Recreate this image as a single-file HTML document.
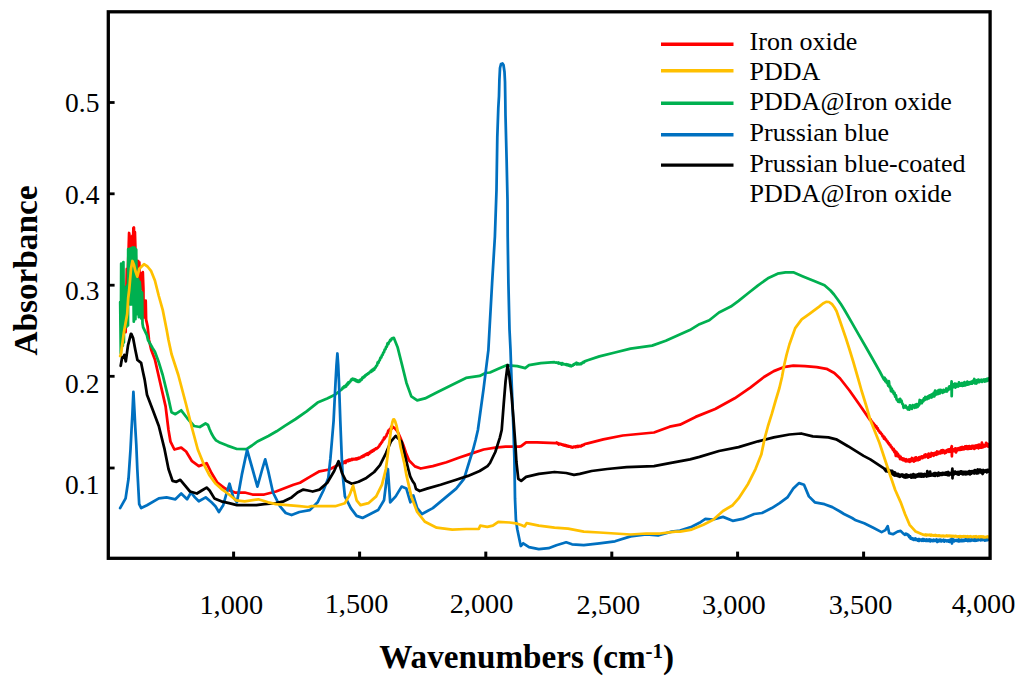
<!DOCTYPE html>
<html><head><meta charset="utf-8"><style>
html,body{margin:0;padding:0;background:#fff;}
svg{display:block;}
text{font-family:"Liberation Serif", serif;fill:#000;}
</style></head><body>
<svg width="1024" height="687" viewBox="0 0 1024 687">
<rect width="1024" height="687" fill="#fff"/>
<polyline points="121.8,298.7 122.3,330.5 122.9,299.8 123.4,329.3 124.0,299.4 124.5,329.5 125.1,295.2 125.6,332.2 126.2,300.7 126.8,269.0 127.3,276.6 127.9,268.2 128.6,250.0 129.1,233.0 129.6,236.0 130.1,252.0 130.6,240.0 131.2,246.0 131.7,252.0 132.3,236.0 132.9,250.0 133.4,228.0 133.9,227.5 134.4,245.0 134.9,232.0 135.5,252.0 136.0,263.1 136.6,276.8 137.1,262.3 137.7,278.3 138.2,261.0 138.8,277.2 139.3,262.3 139.5,273.2 140.1,288.9 140.6,273.2 141.2,289.2 141.7,273.3 142.3,287.9 142.8,272.2 143.4,288.5 143.5,301.8 144.1,317.5 144.6,301.5 145.2,315.8 145.7,300.7 146.1,319.6 147.6,326.5 149.0,340.0 151.2,349.8 154.9,359.5 160.7,385.0 165.6,406.4 168.5,430.0 170.5,441.7 174.4,449.5 181.2,447.6 186.1,451.5 192.0,461.2 198.8,466.1 206.6,463.2 211.5,473.0 217.4,482.7 225.2,488.6 235.0,492.5 244.7,492.5 252.5,494.5 264.2,494.5 276.0,491.5 293.5,484.7 300.0,482.7 309.8,476.9 319.5,471.3 329.3,469.5 339.0,464.5 340.0,464.7 340.7,463.6 341.4,463.7 342.1,462.7 342.8,463.5 343.5,461.9 344.2,462.7 344.9,461.4 345.6,462.9 346.3,460.7 347.0,461.4 347.7,460.2 348.4,461.1 349.1,459.6 349.8,460.6 350.5,459.7 351.2,460.1 351.9,459.0 352.6,459.7 353.3,458.9 354.0,459.4 354.7,458.9 355.4,459.4 356.1,458.4 356.8,459.3 357.5,458.2 358.2,458.7 358.9,457.7 359.6,458.3 360.3,457.3 361.0,457.4 361.7,456.4 362.4,457.1 363.1,455.7 363.8,456.3 364.5,454.9 365.2,455.3 365.9,454.1 366.6,454.7 367.3,453.4 368.0,454.8 368.7,452.9 369.4,453.5 370.1,451.8 370.8,452.4 371.5,450.9 372.2,451.5 372.9,450.2 373.6,450.9 374.3,449.4 375.0,449.6 375.7,448.5 376.4,448.9 377.1,447.8 377.8,447.9 378.5,446.7 379.2,446.3 379.9,444.4 380.6,444.3 381.3,442.6 382.0,442.4 382.7,440.4 383.4,440.2 384.1,437.7 384.8,438.3 385.5,436.7 386.2,436.3 386.9,433.9 387.6,433.2 388.3,430.6 389.0,430.9 389.7,429.2 390.4,429.5 391.1,427.0 391.8,428.7 392.8,426.8 395.0,428.3 397.5,431.4 400.5,438.0 403.3,445.0 406.0,453.0 409.1,460.5 414.9,466.4 420.7,468.5 428.9,466.9 432.8,466.1 446.5,462.2 460.2,457.3 471.9,453.4 483.6,449.5 495.3,447.6 505.6,446.6 519.3,446.6 521.2,446.2 526.1,442.3 536.9,442.3 556.0,443.2 556.7,442.5 557.4,443.5 558.1,443.2 558.8,444.5 559.5,443.6 560.2,444.2 560.9,443.8 561.6,444.7 562.3,444.3 563.0,445.1 563.7,444.6 564.4,445.6 565.1,444.9 565.8,445.9 566.5,445.4 567.2,446.3 567.9,445.8 568.6,446.6 569.3,446.2 570.0,446.8 570.7,446.4 571.4,447.4 572.1,447.1 572.8,447.5 573.5,446.6 574.2,447.0 574.9,446.5 575.6,447.2 576.3,446.3 577.0,446.8 577.7,446.0 578.4,446.8 579.1,445.9 579.8,446.4 580.5,445.8 581.2,446.2 581.9,445.2 582.6,445.5 583.3,444.7 584.0,444.9 584.7,444.0 587.7,443.3 603.3,439.4 622.8,435.5 654.0,432.5 669.7,426.7 680.0,424.7 695.6,416.9 715.2,409.0 734.7,398.3 750.3,387.6 764.0,377.0 773.8,371.1 783.5,367.2 793.3,365.6 805.0,366.2 816.7,367.2 826.5,368.8 834.3,373.0 840.1,378.5 849.5,390.5 859.0,404.0 870.0,419.9 870.7,419.4 871.4,421.4 872.1,421.5 872.8,423.2 873.5,423.4 874.2,424.9 874.9,424.8 875.6,427.0 876.3,426.2 877.0,428.7 877.7,428.3 878.4,430.6 879.1,430.7 879.8,432.6 880.5,432.3 881.2,433.8 881.9,434.2 882.6,436.2 883.3,435.9 884.0,438.7 884.7,437.4 885.4,439.5 886.1,439.4 886.8,441.4 887.5,441.3 888.2,443.3 888.9,443.2 889.6,445.1 890.3,444.9 891.0,447.1 891.7,446.9 892.4,448.7 893.0,450.0 893.7,449.0 894.4,452.1 895.1,450.7 895.8,455.9 896.5,452.2 897.2,456.0 897.9,453.8 898.6,456.6 899.3,455.7 900.0,459.0 900.7,456.9 901.4,459.3 902.1,458.2 902.8,460.1 903.5,458.6 904.2,460.4 904.9,459.3 905.6,461.3 906.3,459.2 907.0,461.3 907.7,460.3 908.4,461.3 909.1,459.5 909.8,461.9 910.5,459.4 911.2,461.0 911.9,458.0 912.6,460.9 913.3,459.3 914.0,461.5 914.7,457.8 915.4,460.7 916.1,457.4 916.8,460.1 917.5,458.3 918.2,460.2 918.9,457.5 919.6,459.7 920.3,457.0 921.0,458.0 921.7,456.5 922.4,458.2 923.1,456.5 923.8,457.4 924.5,454.8 925.2,457.1 925.9,454.5 926.6,456.4 927.3,455.0 928.0,457.7 928.7,453.6 929.4,456.9 930.1,454.6 930.8,456.5 931.5,453.0 932.2,454.9 932.9,453.5 933.6,455.8 934.3,453.1 935.0,454.5 935.7,452.6 936.4,454.8 937.1,451.5 937.8,454.1 938.5,452.0 939.2,453.3 939.9,451.8 940.6,453.3 941.3,450.5 942.0,452.9 942.7,450.1 943.4,452.4 944.1,450.8 944.8,453.3 945.5,450.9 946.2,452.5 946.9,450.1 947.6,451.4 948.3,449.5 949.0,451.9 949.7,449.5 950.4,451.7 951.1,448.5 951.8,446.2 951.8,451.7 951.9,456.3 952.0,451.3 952.5,449.0 953.2,451.3 953.9,449.3 954.6,451.2 955.3,448.3 956.0,452.4 956.7,448.7 957.4,450.4 958.1,448.3 958.8,449.7 959.5,447.9 960.2,449.9 960.9,447.3 961.6,449.6 962.3,447.0 963.0,449.4 963.7,447.5 964.4,449.2 965.1,446.4 965.8,448.7 966.5,446.2 967.2,449.0 967.9,446.4 968.6,448.9 969.3,446.1 970.0,448.7 970.7,446.6 971.4,448.6 972.1,445.8 972.8,448.2 973.5,446.0 974.2,448.9 974.9,445.8 975.6,448.1 976.3,445.5 977.0,447.7 977.7,445.1 978.4,448.3 979.1,444.6 979.8,447.6 980.5,445.8 981.2,447.7 981.9,442.7 982.6,447.4 983.3,444.9 984.0,446.8 984.7,445.2 985.4,446.3 986.1,442.9 986.8,445.9 987.5,443.8 988.2,446.7 988.9,444.6 989.6,446.3" fill="none" stroke="#ff0000" stroke-width="2.75" stroke-linejoin="round" stroke-linecap="round"/>
<polyline points="120.2,302.1 120.8,353.3 121.2,263.6 121.8,343.5 122.3,264.6 122.8,345.7 123.4,262.1 123.9,342.5 124.0,286.5 124.8,327.3 125.6,287.6 126.4,327.0 127.2,285.4 128.0,325.4 128.2,249.1 129.0,303.1 129.8,248.8 130.6,304.5 131.4,248.2 132.2,304.4 133.0,247.5 133.8,321.7 134.6,247.6 135.4,319.2 136.2,249.5 136.5,283.0 137.3,314.1 138.1,279.2 138.9,317.1 139.7,281.9 140.5,291.8 141.3,318.5 142.1,292.6 142.5,323.6 143.2,327.4 146.9,335.2 148.0,340.0 152.7,348.3 154.9,351.7 158.5,361.4 162.7,375.0 168.5,398.6 171.5,412.3 175.4,414.2 181.2,410.3 187.1,418.0 194.0,426.0 199.8,427.0 205.5,423.5 208.0,425.0 209.6,429.2 211.5,433.5 213.7,437.4 216.0,440.3 219.1,442.2 227.3,445.6 236.9,449.0 246.5,449.2 252.0,445.5 257.4,441.5 268.4,436.0 276.6,431.3 284.8,425.8 295.7,419.0 306.6,411.4 317.6,402.6 327.2,398.5 335.4,394.4 339.0,391.5 342.0,389.2 342.7,387.7 343.4,388.0 344.1,386.4 344.8,387.0 345.5,385.7 346.2,386.5 346.9,384.0 347.6,384.7 348.3,382.5 349.0,383.3 349.7,381.7 350.4,381.6 351.1,379.7 351.8,380.0 352.5,378.8 353.2,379.5 353.9,379.0 354.6,380.4 355.3,379.4 356.0,381.1 356.7,380.1 357.4,381.8 358.1,381.0 358.8,381.9 359.5,380.3 360.2,381.1 360.9,379.3 361.6,379.6 362.3,377.7 363.0,378.1 363.7,376.7 364.4,377.1 365.1,375.5 365.8,375.7 366.5,374.3 367.2,374.6 367.9,373.4 368.6,373.6 369.3,372.4 370.0,372.4 370.7,371.0 371.4,371.7 372.1,369.9 372.8,370.5 373.5,368.8 374.2,369.7 374.9,367.6 375.6,367.6 376.3,365.7 377.0,365.5 377.7,362.3 378.4,362.9 379.1,360.8 379.8,360.0 380.5,357.7 381.2,357.7 381.9,355.3 382.6,354.8 383.3,352.7 384.0,352.2 384.7,349.5 385.4,349.3 386.1,346.9 386.8,346.8 387.5,343.5 388.2,344.3 388.9,342.2 389.6,341.6 390.3,339.8 391.0,340.2 391.7,338.6 393.8,337.8 397.7,347.6 401.6,363.2 406.4,382.7 411.3,396.4 417.2,400.3 425.0,398.4 436.7,392.5 452.3,384.7 466.0,377.9 479.7,375.9 485.5,373.0 490.0,372.5 497.8,369.0 506.6,365.2 517.3,366.1 525.2,368.1 529.0,365.2 540.8,363.2 554.5,362.2 556.0,362.7 556.7,362.5 557.4,363.0 558.1,362.5 558.8,363.5 559.5,362.9 560.2,363.6 560.9,363.2 561.6,364.5 562.3,363.3 563.0,364.4 563.7,364.0 564.4,364.4 565.1,364.2 565.8,364.8 566.5,364.2 567.2,365.2 567.9,364.5 568.6,365.6 569.3,364.9 570.0,366.0 570.7,365.3 571.4,366.2 572.1,365.7 572.8,365.7 573.5,364.4 574.2,364.7 574.9,363.6 575.6,363.6 576.3,362.8 577.0,364.4 577.7,363.2 578.4,364.2 579.1,363.7 579.8,364.3 580.5,363.6 581.2,364.0 581.9,362.8 582.6,363.1 583.3,362.0 584.0,362.3 584.7,361.4 587.7,360.3 599.4,356.4 615.0,352.5 630.6,348.6 652.1,345.6 665.8,340.8 677.5,335.5 689.8,330.1 699.5,324.2 709.3,320.3 719.0,312.5 730.8,306.6 738.6,300.8 748.4,293.0 758.1,285.3 767.9,278.3 777.6,273.7 785.5,272.3 793.3,272.3 803.0,276.4 814.8,281.2 824.5,285.2 830.5,290.5 834.0,294.5 837.5,299.2 841.0,304.3 844.4,309.7 851.4,321.9 858.4,334.1 865.4,346.3 872.4,358.5 880.0,372.0 884.0,379.7 884.7,377.7 885.4,381.4 886.1,379.6 886.8,382.9 887.5,382.2 888.2,385.8 888.9,381.1 889.6,387.1 890.3,386.4 891.0,391.1 891.7,388.6 892.4,392.0 893.1,391.0 893.8,394.0 894.5,392.7 895.2,396.8 895.9,395.3 896.6,399.6 897.3,400.0 898.0,401.5 898.7,399.7 899.4,402.0 900.1,398.8 900.8,400.8 901.5,400.6 902.2,403.7 902.9,404.1 903.6,407.8 904.3,406.0 905.0,407.2 905.7,405.7 906.4,407.9 907.1,407.4 907.8,409.4 908.5,407.4 909.2,409.7 909.9,405.3 910.6,408.3 911.3,406.2 912.0,408.8 912.7,405.2 913.4,407.2 914.1,406.0 914.8,407.8 915.5,404.6 916.2,407.4 916.9,404.2 917.6,406.9 918.3,404.3 919.0,405.4 919.7,400.0 920.4,403.5 921.1,400.8 921.8,403.2 922.5,400.2 923.2,401.3 923.9,398.5 924.6,400.1 925.3,397.0 926.0,399.3 926.7,397.1 927.4,399.0 928.1,396.4 928.8,398.4 929.5,395.5 930.2,397.4 930.9,394.9 931.6,397.5 932.3,394.1 933.0,396.5 933.7,393.0 934.4,396.3 935.1,390.6 935.8,394.6 936.5,391.9 937.2,394.2 937.9,390.6 938.6,393.8 939.3,390.0 940.0,393.3 940.7,389.9 941.4,392.0 942.1,390.7 942.8,392.8 943.5,389.8 944.2,391.9 944.9,390.4 945.6,391.3 946.3,388.5 947.0,391.5 947.7,388.7 948.4,389.8 949.1,386.6 949.8,389.0 950.5,386.1 951.2,387.7 951.6,381.3 951.7,396.2 951.9,385.7 951.9,384.9 952.6,386.3 953.3,384.5 954.0,387.2 954.7,383.7 955.4,387.6 956.1,383.9 956.8,386.5 957.5,384.4 958.2,386.5 958.9,382.4 959.6,385.7 960.3,383.5 961.0,385.5 961.7,383.1 962.4,385.9 963.1,383.2 963.8,385.6 964.5,382.1 965.2,385.4 965.9,383.1 966.6,384.8 967.3,381.7 968.0,384.6 968.7,382.3 969.4,384.1 970.1,382.1 970.8,383.5 971.5,381.6 972.2,383.7 972.9,380.8 973.6,382.7 974.3,379.0 975.0,383.4 975.7,380.7 976.4,383.5 977.1,380.2 977.8,382.3 978.5,379.7 979.2,382.2 979.9,380.3 980.6,381.3 981.3,379.7 982.0,381.9 982.7,380.0 983.4,381.0 984.1,379.4 984.8,381.7 985.5,379.3 986.2,381.2 986.9,379.0 987.6,380.8 988.3,378.5 989.0,380.1 989.7,378.0" fill="none" stroke="#00b050" stroke-width="2.75" stroke-linejoin="round" stroke-linecap="round"/>
<polyline points="120.1,508.1 125.6,498.4 128.5,478.8 130.5,449.5 131.5,430.0 132.4,414.2 133.4,391.8 134.4,410.0 135.3,427.9 136.3,445.0 137.3,469.0 139.2,504.2 141.2,508.1 147.0,505.2 158.8,498.4 166.6,497.4 175.4,499.3 181.2,493.5 187.1,499.3 191.0,492.5 194.9,497.4 198.8,501.3 205.7,497.4 211.5,502.3 215.4,506.2 218.9,512.0 223.2,505.2 226.2,494.5 229.5,483.7 233.0,496.4 236.9,502.3 241.8,474.9 247.1,450.0 252.5,469.0 257.4,486.6 262.3,469.0 265.2,459.3 268.2,471.0 273.0,492.5 279.9,506.2 285.7,513.0 291.6,515.0 299.4,512.0 309.8,510.1 317.6,502.3 323.4,490.5 328.3,478.0 330.4,458.7 332.0,440.0 333.6,420.8 335.5,382.9 336.5,365.0 337.4,353.5 338.2,365.0 339.0,382.9 340.3,420.8 341.8,458.7 342.7,475.0 344.9,496.4 350.8,508.1 356.6,515.9 362.5,517.9 370.3,514.0 378.1,510.1 384.0,500.3 387.9,469.0 390.2,502.3 395.7,496.4 401.6,486.6 406.4,488.6 410.4,502.3 413.3,495.4 417.2,508.1 422.0,514.0 432.8,508.1 444.5,498.4 456.2,488.6 464.0,478.8 469.5,461.0 473.0,450.0 475.6,440.0 477.9,430.0 483.6,388.6 488.4,349.8 489.5,329.5 492.1,283.0 494.9,236.5 496.5,190.0 497.3,137.2 498.3,108.0 499.0,96.0 499.4,80.0 500.0,68.0 501.0,64.0 502.5,63.5 503.5,65.0 504.5,72.0 505.0,82.0 505.3,100.0 505.5,115.4 506.6,159.0 507.5,199.8 507.7,236.5 508.4,283.0 509.5,329.5 510.5,349.8 511.5,378.8 513.4,427.7 514.4,459.3 515.0,498.4 515.9,519.5 517.3,529.3 519.3,539.0 520.8,546.0 523.2,543.3 529.0,547.2 538.8,549.1 548.6,548.2 556.4,545.2 566.2,542.3 572.0,544.3 583.8,545.2 599.4,543.3 615.0,541.3 630.6,536.4 646.2,534.5 658.0,535.5 671.6,531.6 680.0,530.6 691.7,526.7 699.5,522.8 705.4,518.9 713.2,519.5 723.0,516.9 732.7,520.8 742.5,518.9 754.2,514.0 762.0,513.0 771.8,508.1 779.6,503.2 787.4,497.4 793.3,488.6 799.1,483.1 804.0,484.7 808.9,496.4 814.8,502.3 824.5,504.2 832.3,507.1 840.0,511.5 844.0,514.0 852.1,518.0 855.8,520.3 864.2,523.3 873.3,527.8 881.6,532.1 885.4,530.1 887.7,526.3 889.2,533.1 893.0,534.2 897.5,531.6 900.6,530.9 903.6,533.9 905.0,534.7 905.7,533.6 906.4,534.3 907.1,534.1 907.8,535.4 908.5,535.0 909.2,537.1 909.9,536.2 910.6,538.5 911.3,537.7 912.0,539.0 912.7,538.5 913.4,539.8 914.1,538.6 914.8,539.8 915.5,538.4 916.2,539.9 916.9,539.4 917.6,540.5 918.3,539.1 919.0,540.9 919.7,539.2 920.4,540.3 921.1,539.7 921.8,540.7 922.5,539.1 923.2,540.7 923.9,539.3 924.6,540.5 925.3,539.8 926.0,540.9 926.7,539.4 927.4,540.8 928.1,539.8 928.8,540.9 929.5,539.4 930.2,541.4 930.9,539.7 931.6,540.9 932.3,540.1 933.0,541.1 933.7,539.7 934.4,540.9 935.1,540.0 935.8,540.9 936.5,539.5 937.2,542.0 937.9,540.1 938.6,541.3 939.3,539.8 940.0,541.0 940.7,539.8 941.4,541.4 942.1,540.4 942.8,540.9 943.5,539.8 944.2,541.6 944.9,540.1 945.6,540.9 946.3,540.5 947.0,541.3 947.7,540.4 948.4,541.5 949.1,540.3 949.8,541.9 950.5,539.7 951.2,541.3 951.9,538.5 951.9,539.8 952.0,543.5 952.1,540.0 952.6,541.2 953.3,539.5 954.0,541.4 954.7,540.1 955.4,540.8 956.1,540.0 956.8,540.8 957.5,540.0 958.2,541.2 958.9,539.4 959.6,541.3 960.3,539.9 961.0,541.0 961.7,539.8 962.4,541.0 963.1,540.0 963.8,541.1 964.5,539.8 965.2,540.6 965.9,539.3 966.6,540.6 967.3,539.1 968.0,541.0 968.7,539.3 969.4,540.9 970.1,539.6 970.8,540.9 971.5,539.4 972.2,540.4 972.9,539.4 973.6,540.5 974.3,539.5 975.0,540.7 975.7,539.3 976.4,540.6 977.1,539.2 977.8,540.4 978.5,539.3 979.2,539.9 979.9,538.7 980.6,540.2 981.3,539.2 982.0,540.1 982.7,539.1 983.4,539.8 984.1,537.4 984.8,540.7 985.5,538.8 986.2,540.3 986.9,538.4 987.6,540.2 988.3,539.0 989.0,539.5 989.7,538.9" fill="none" stroke="#0070c0" stroke-width="2.75" stroke-linejoin="round" stroke-linecap="round"/>
<polyline points="120.7,365.8 122.2,357.0 123.6,357.6 124.4,354.9 125.8,361.4 128.0,345.4 130.9,333.8 131.4,334.0 133.1,338.1 135.3,349.8 137.4,359.9 141.1,362.8 143.2,373.0 144.7,379.9 147.0,394.7 152.9,410.3 158.8,426.0 164.6,449.4 168.5,469.0 172.5,480.8 176.4,481.8 180.3,479.8 185.1,485.7 190.0,491.5 196.9,493.5 201.8,490.5 206.6,487.6 209.6,490.5 214.4,498.4 221.3,501.3 229.1,503.2 236.9,505.2 244.7,505.2 256.4,505.2 264.2,504.2 276.0,503.2 283.8,501.3 291.6,497.4 297.5,492.5 303.3,489.6 308.0,490.5 312.7,491.5 319.5,489.6 327.3,482.7 334.2,471.0 338.5,461.2 342.0,473.0 345.9,480.8 351.8,483.7 358.6,481.8 366.4,477.9 374.2,472.0 380.0,465.2 385.9,453.4 390.8,441.7 395.7,435.9 401.6,441.7 405.8,458.9 408.0,468.0 410.2,476.4 412.5,481.0 414.6,484.0 416.0,489.0 419.7,491.0 427.0,488.6 440.6,484.7 456.2,479.8 468.0,475.9 479.7,471.0 487.5,466.1 490.0,463.0 495.3,452.0 499.8,437.8 501.7,430.0 503.7,404.2 505.6,380.8 507.6,365.2 509.5,376.9 511.5,394.5 513.4,417.9 515.4,445.0 516.4,462.0 518.3,478.8 521.2,480.8 526.1,476.9 538.8,473.9 554.5,472.0 566.2,473.0 574.0,474.9 579.8,473.9 591.6,471.0 607.2,469.0 626.7,467.1 654.0,466.1 669.7,463.2 690.0,459.3 699.5,456.9 719.0,451.0 738.6,447.1 758.1,441.3 773.8,437.4 789.4,434.5 801.1,433.5 812.8,436.4 828.4,437.4 836.2,439.3 848.0,446.2 863.6,455.9 870.3,459.4 883.9,468.4 886.0,471.2 886.7,468.3 887.4,471.5 888.1,469.5 888.8,471.7 889.5,470.7 890.2,472.2 890.9,470.8 891.6,473.6 892.3,470.9 893.0,474.6 893.7,472.1 894.4,475.5 895.1,472.5 895.8,475.5 896.5,473.8 897.2,475.9 897.9,473.8 898.6,476.4 899.3,474.6 900.0,476.8 900.7,474.9 901.4,475.9 902.1,474.4 902.8,476.5 903.5,475.0 904.2,477.3 904.9,475.2 905.6,477.5 906.3,474.5 907.0,477.3 907.7,475.0 908.4,476.9 909.1,475.8 909.8,476.6 910.5,474.8 911.2,477.6 911.9,474.9 912.6,477.4 913.3,474.2 914.0,477.3 914.7,474.8 915.4,477.5 916.1,475.0 916.8,476.8 917.5,474.5 918.2,476.3 918.9,473.8 919.6,476.3 920.3,473.9 921.0,476.7 921.7,473.9 922.4,476.5 923.1,474.4 923.8,476.6 924.5,474.0 925.2,475.6 925.9,474.2 926.6,476.5 927.3,471.1 928.0,476.1 928.7,474.1 929.4,475.8 930.1,471.7 930.8,475.6 931.5,474.1 932.2,475.3 932.9,474.0 933.6,475.5 934.3,473.1 935.0,475.8 935.7,473.2 936.4,475.1 937.1,473.8 937.8,475.8 938.5,472.7 939.2,475.4 939.9,473.3 940.6,474.9 941.3,473.2 942.0,474.9 942.7,472.9 943.4,474.6 944.1,473.3 944.8,474.5 945.5,472.6 946.2,474.7 946.9,472.5 947.6,475.2 948.3,472.0 949.0,475.3 949.7,473.1 950.4,474.3 951.1,472.9 951.8,473.9 952.4,468.7 952.5,478.3 952.5,472.5 952.6,472.5 953.2,475.1 953.9,471.7 954.6,473.9 955.3,471.6 956.0,473.6 956.7,472.6 957.4,474.2 958.1,472.0 958.8,474.6 959.5,471.9 960.2,473.6 960.9,471.4 961.6,473.9 962.3,471.7 963.0,474.4 963.7,471.9 964.4,474.2 965.1,471.9 965.8,474.4 966.5,472.0 967.2,474.0 967.9,472.0 968.6,473.8 969.3,471.2 970.0,474.4 970.7,471.4 971.4,473.7 972.1,471.2 972.8,472.9 973.5,471.0 974.2,473.5 974.9,470.1 975.6,473.1 976.3,470.6 977.0,473.5 977.7,469.5 978.4,473.2 979.1,469.6 979.8,471.9 980.5,469.7 981.2,472.8 981.9,470.6 982.6,474.0 983.3,470.0 984.0,472.3 984.7,470.7 985.4,471.6 986.1,470.2 986.8,472.4 987.5,469.8 988.2,471.7 988.9,470.0 989.6,471.8" fill="none" stroke="#000000" stroke-width="2.75" stroke-linejoin="round" stroke-linecap="round"/>
<polyline points="120.2,356.0 121.0,354.0 123.8,333.0 127.2,314.0 128.2,298.0 129.2,290.0 131.0,268.8 132.4,261.0 134.0,265.0 135.3,270.8 137.3,276.6 139.3,268.8 144.0,264.2 147.5,266.5 151.0,270.8 154.9,280.5 158.8,296.0 162.7,309.8 166.6,329.4 168.5,340.0 171.5,354.0 178.3,375.0 186.1,404.5 192.0,428.0 197.8,449.5 203.7,464.0 209.6,475.5 215.4,483.5 221.3,488.8 229.1,494.5 235.9,500.3 244.7,501.3 258.4,499.3 268.2,502.3 276.0,504.2 287.7,505.2 299.4,506.2 308.0,507.0 311.7,506.2 323.4,506.2 335.2,506.2 344.9,503.2 349.8,494.5 353.1,485.7 356.6,500.3 360.5,505.2 368.4,503.2 376.2,496.4 382.0,484.7 385.9,469.0 388.9,445.6 391.0,430.0 392.3,422.5 393.2,419.6 394.1,419.4 395.2,421.5 396.7,426.5 398.5,435.0 400.6,447.2 404.5,464.0 406.4,474.9 411.3,496.4 417.2,512.0 425.0,521.8 436.7,527.7 452.3,529.6 466.0,529.0 478.8,528.8 480.3,525.7 487.3,526.9 492.8,525.7 498.3,521.8 509.5,522.5 516.0,523.4 521.2,525.0 524.6,526.4 526.6,523.2 538.8,525.7 554.5,527.7 568.1,528.6 583.8,531.6 599.4,532.5 615.0,533.5 630.6,534.5 646.2,533.5 660.0,533.5 675.5,531.6 680.0,531.6 691.7,529.6 703.4,524.7 713.2,519.8 723.0,511.0 732.7,505.2 738.6,498.4 748.2,483.7 755.5,469.1 761.3,454.6 764.6,438.6 768.0,426.0 771.8,413.9 775.5,401.0 779.4,388.0 782.0,377.0 784.2,365.0 786.5,355.0 789.4,344.5 795.2,328.1 801.7,319.4 809.8,313.6 819.2,306.6 823.0,303.5 826.1,301.9 829.0,302.0 832.0,304.2 834.5,307.5 836.6,311.2 840.0,321.0 846.0,338.5 849.5,349.5 853.2,361.5 858.4,379.5 861.5,390.5 866.0,405.0 870.3,420.0 879.4,442.7 888.4,470.0 895.2,490.0 900.6,502.1 905.1,514.2 909.6,524.8 915.7,531.6 923.3,534.7 925.0,535.1 925.7,534.4 926.4,535.4 927.1,534.8 927.8,535.2 928.5,534.8 929.2,535.2 929.9,534.7 930.6,535.6 931.3,534.8 932.0,535.5 932.7,535.2 933.4,535.7 934.1,535.1 934.8,535.6 935.5,534.9 936.2,535.9 936.9,535.4 937.6,535.8 938.3,535.3 939.0,536.0 939.7,535.5 940.4,536.1 941.1,535.7 941.8,536.3 942.5,535.6 943.2,536.2 943.9,535.6 944.6,536.3 945.3,535.8 946.0,536.1 946.7,535.5 947.4,536.2 948.1,535.6 948.8,536.2 949.5,535.7 950.2,536.4 950.9,535.8 951.6,536.5 952.3,535.9 953.0,536.4 953.7,536.0 954.4,536.6 955.1,535.9 955.8,536.4 956.5,536.1 957.2,536.8 957.9,536.3 958.6,536.6 959.3,536.2 960.0,537.2 960.7,536.2 961.4,536.9 962.1,536.3 962.8,536.7 963.5,536.2 964.2,536.9 964.9,536.1 965.6,536.7 966.3,536.4 967.0,537.0 967.7,536.2 968.4,536.8 969.1,536.4 969.8,536.9 970.5,536.2 971.2,536.9 971.9,536.6 972.6,537.1 973.3,536.5 974.0,536.8 974.7,536.5 975.4,537.0 976.1,536.3 976.8,537.3 977.5,536.7 978.2,536.9 978.9,536.5 979.6,537.3 980.3,536.4 981.0,537.1 981.7,536.4 982.4,537.0 983.1,536.4 983.8,537.3 984.5,536.8 985.2,537.3 985.9,536.8 986.6,537.1 987.3,536.5 988.0,537.1 988.7,536.6 989.4,537.5" fill="none" stroke="#ffc000" stroke-width="2.75" stroke-linejoin="round" stroke-linecap="round"/>

<line x1="108" y1="102.5" x2="114.6" y2="102.5" stroke="#000" stroke-width="2.8"/><line x1="108" y1="193.8" x2="114.6" y2="193.8" stroke="#000" stroke-width="2.8"/><line x1="108" y1="285.2" x2="114.6" y2="285.2" stroke="#000" stroke-width="2.8"/><line x1="108" y1="376.3" x2="114.6" y2="376.3" stroke="#000" stroke-width="2.8"/><line x1="108" y1="468" x2="114.6" y2="468" stroke="#000" stroke-width="2.8"/><line x1="233.6" y1="558" x2="233.6" y2="551.6" stroke="#000" stroke-width="3"/><line x1="359.6" y1="558" x2="359.6" y2="551.6" stroke="#000" stroke-width="3"/><line x1="485.8" y1="558" x2="485.8" y2="551.6" stroke="#000" stroke-width="3"/><line x1="611.8" y1="558" x2="611.8" y2="551.6" stroke="#000" stroke-width="3"/><line x1="737.6" y1="558" x2="737.6" y2="551.6" stroke="#000" stroke-width="3"/><line x1="863.6" y1="558" x2="863.6" y2="551.6" stroke="#000" stroke-width="3"/>
<rect x="108.3" y="11.8" width="881.8" height="546.5" fill="none" stroke="#000" stroke-width="3.3"/>
<text x="65" y="112.4" font-size="27.5">0.5</text><text x="65" y="203.7" font-size="27.5">0.4</text><text x="65" y="299.7" font-size="27.5">0.3</text><text x="65" y="392.9" font-size="27.5">0.2</text><text x="65" y="494.4" font-size="27.5">0.1</text><text x="231.3" y="614.4" text-anchor="middle" font-size="28.3">1,000</text><text x="356.55" y="612.7" text-anchor="middle" font-size="28.3">1,500</text><text x="481.5" y="612.7" text-anchor="middle" font-size="28.3">2,000</text><text x="608.4" y="614.4" text-anchor="middle" font-size="28.3">2,500</text><text x="733.9" y="614.2" text-anchor="middle" font-size="28.3">3,000</text><text x="860.5" y="614.2" text-anchor="middle" font-size="28.3">3,500</text><text x="983.5" y="613" text-anchor="middle" font-size="28.3">4,000</text>
<line x1="661" y1="44.3" x2="733.5" y2="44.3" stroke="#ff0000" stroke-width="3.4"/><text x="749.6" y="50.1" font-size="26">Iron oxide</text><line x1="661" y1="70.8" x2="733.5" y2="70.8" stroke="#ffc000" stroke-width="3.4"/><text x="749.6" y="80.39999999999999" font-size="26">PDDA</text><line x1="661" y1="103.3" x2="733.5" y2="103.3" stroke="#00b050" stroke-width="3.4"/><text x="749.6" y="110.39999999999999" font-size="26">PDDA@Iron oxide</text><line x1="661" y1="134.8" x2="733.5" y2="134.8" stroke="#0070c0" stroke-width="3.4"/><text x="749.6" y="140.9" font-size="26">Prussian blue</text><line x1="661" y1="165.1" x2="733.5" y2="165.1" stroke="#000000" stroke-width="3.4"/><text x="749.6" y="171.6" font-size="26">Prussian blue-coated</text><text x="749.6" y="202.4" font-size="26">PDDA@Iron oxide</text>
<text x="0" y="0" font-size="33.3" font-weight="bold" transform="translate(36.9,355.6) rotate(-90)">Absorbance</text>
<text x="379.2" y="667.5" font-size="33.2" font-weight="bold">Wavenumbers (cm<tspan font-size="21" dy="-9.3">-1</tspan><tspan dy="9.3">)</tspan></text>
</svg>
</body></html>
